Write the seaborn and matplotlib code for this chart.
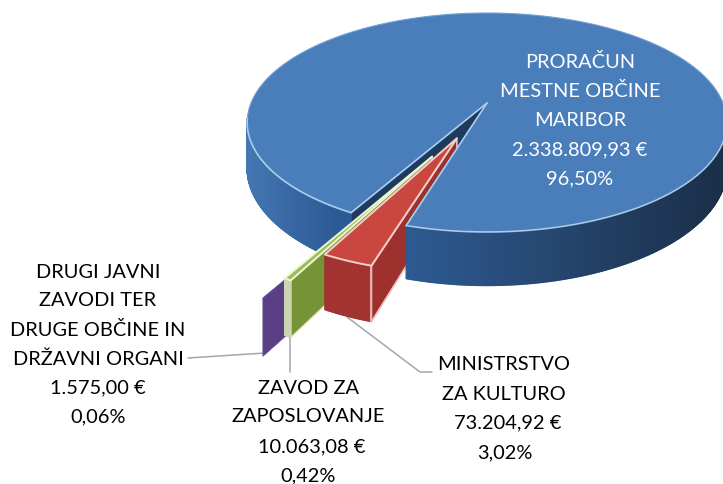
import numpy as np
import seaborn as sns
import matplotlib.pyplot as plt
from matplotlib.patches import Polygon

shares = [96.50, 3.02, 0.42, 0.06]
amounts = ['2.338.809,93 €', '73.204,92 €', '10.063,08 €', '1.575,00 €']
percents = ['96,50%', '3,02%', '0,42%', '0,06%']
names = [['PRORAČUN', 'MESTNE OBČINE', 'MARIBOR'],
         ['MINISTRSTVO', 'ZA KULTURO'],
         ['ZAVOD ZA', 'ZAPOSLOVANJE'],
         ['DRUGI JAVNI', 'ZAVODI TER', 'DRUGE OBČINE IN', 'DRŽAVNI ORGANI']]

# projection of the flat pie to the picture (tilted disc seen in perspective)
cx, cy = 487, 103
a, b, k = 236, 106, 0.178
depth = 44
first_cut = 106.5  # where the red slice starts, degrees clockwise from east
radius_small = 0.93
explode = [0, 0.336, 0.51, 0.63]
bisect_dir = [0, 111, 114.7, 115]


def project(x, y):
    w = 1 - k * y
    return cx + a * x / w, cy + b * y / w


def wall_h(y):
    return depth / (1 - k * y)


def slice_xy(start, end, off, r=1.0, n=60):
    t = np.radians(np.linspace(start, end, n))
    return off[0] + r * np.cos(t), off[1] + r * np.sin(t)


def face(ax, pts, color, edge=None, lw=1.0, z=1):
    ax.add_patch(Polygon(pts, closed=True, facecolor=color, edgecolor=edge if edge else color,
                         linewidth=lw, zorder=z, joinstyle='round'))


def side(ax, p, q, color, edge=None, lw=1.0, z=1):
    # p, q are disc points, wall hangs down below them
    p1 = project(*p)
    q1 = project(*q)
    pts = [p1, q1, (q1[0], q1[1] + wall_h(q[1])), (p1[0], p1[1] + wall_h(p[1]))]
    face(ax, pts, color, edge, lw, z)


def rim_wall(ax, start, end, pal_func, off=(0, 0), r=1.0, z=1, n=240):
    xs, ys = slice_xy(start, end, off, r, n)
    for i in range(n - 1):
        px, _ = project(xs[i], ys[i])
        col = pal_func(px)
        side(ax, (xs[i], ys[i]), (xs[i + 1], ys[i + 1]), col, col, 1.0, z)


sns.set_theme(style='white')
plt.rcParams['font.family'] = ['Lato', 'DejaVu Sans']
fig, ax = plt.subplots(figsize=(7.23, 4.84), dpi=100)
ax.set_position([0, 0, 1, 1])
ax.set_xlim(0, 723)
ax.set_ylim(484, 0)
ax.axis('off')

# angles from the values
sweeps = [s * 360 / sum(shares) for s in shares]
red_start = first_cut
red_end = red_start + sweeps[1]
green_end = red_end + sweeps[2]
purple_end = green_end + sweeps[3]
blue_start = purple_end
blue_end = first_cut + 360

offs = []
for e, d in zip(explode, bisect_dir):
    offs.append((e * np.cos(np.radians(d)), e * np.sin(np.radians(d))))

# wall shading along x
left_pal = sns.blend_palette(['#4477B3', '#2C5A94'], 200)
right_pal = sns.blend_palette(['#2D5A92', '#25456D', '#1B2F49'], 300)


def left_col(px):
    return left_pal[int(np.clip((px - 245) / 90 * 199, 0, 199))]


def right_col(px):
    return right_pal[int(np.clip((px - 409) / 310 * 299, 0, 299))]


# blue, far parts
bx, by = slice_xy(blue_start, blue_start, (0, 0), 1.0, 2)
side(ax, (0, 0), (bx[0], by[0]), '#1F3A5F', None, 0.8, 1)
rim_wall(ax, blue_start, 172, left_col, z=2)

# purple
xs, ys = slice_xy(green_end, purple_end, offs[3], radius_small, 4)
side(ax, offs[3], (xs[0], ys[0]), '#5A3F87', '#6A5296', 0.6, 3)

# green
xs, ys = slice_xy(red_end, green_end, offs[2], radius_small, 6)
side(ax, offs[2], (xs[0], ys[0]), '#769336', '#DDE8BE', 1.0, 4)
rim_wall(ax, red_end, green_end, lambda p: '#CBD6B0', off=offs[2], r=radius_small, z=4, n=6)
face(ax, [project(*offs[2])] + [project(x, y) for x, y in zip(xs, ys)], '#9BBB59', '#EEF5D2', 1.4, 4)

# red side wall is hidden partly by the blue top
xs, ys = slice_xy(red_start, red_end, offs[1], radius_small, 30)
side(ax, offs[1], (xs[0], ys[0]), '#9E302E', '#E9C4C0', 1.2, 5)

# blue top and front right wall
bx, by = slice_xy(blue_start, blue_end, (0, 0), 1.0, 240)
face(ax, [project(0, 0)] + [project(x, y) for x, y in zip(bx, by)], '#4A7EBB', '#6F9FD6', 0.8, 6)
rim_wall(ax, 10, first_cut, right_col, z=7)
rx, ry = slice_xy(10, first_cut, (0, 0), 1.0, 90)
ax.plot(*project(rx, ry), color='#A8CDEB', lw=1.2, zorder=8)
lx, ly = slice_xy(blue_start, 172, (0, 0), 1.0, 60)
ax.plot(*project(lx, ly), color='#A8CDEB', lw=1.2, zorder=8)
for x_, y_ in [(lx[0], ly[0]), (rx[-1], ry[-1])]:
    ax.plot([cx, project(x_, y_)[0]], [cy, project(x_, y_)[1]], color='#A8CDEB', lw=1.2, zorder=8)

# red top and rim
for i in range(29):
    side(ax, (xs[i], ys[i]), (xs[i + 1], ys[i + 1]), '#A23331', '#A23331', 0.8, 9)
p_top = [project(*offs[1])] + [project(x, y) for x, y in zip(xs, ys)]
face(ax, p_top, '#C9473F', '#F2CFC8', 1.4, 10)
p1 = project(xs[0], ys[0])
ax.plot([p1[0], p1[0]], [p1[1], p1[1] + wall_h(ys[0])], color='#F2CFC8', lw=1.2, zorder=10)

# leader lines
grey = '#A6A6A6'
ax.plot([188, 265], [358, 353], color=grey, lw=1.1, zorder=2)
ax.plot([290, 290], [337, 372], color=grey, lw=1.1, zorder=2)
ax.plot([347, 420, 432], [317, 372, 372], color=grey, lw=1.1, zorder=2)


def label(lines, xs_, ys_, color):
    for t, x_, y_ in zip(lines, xs_, ys_):
        ax.text(x_, y_, t, ha='center', va='center', fontsize=14.4, color=color, zorder=12)


label(names[0] + [amounts[0], percents[0]], [580, 580, 580, 580, 580], [62, 91, 121, 150, 179], 'white')
label(names[3] + [amounts[3], percents[3]], [98, 98, 98, 98, 98, 98], [272, 301, 330, 359, 388, 417], 'black')
label(names[2] + [amounts[2], percents[2]], [308, 308, 312, 308], [388, 417, 447, 476], 'black')
label(names[1] + [amounts[1], percents[1]], [504, 504, 508, 505], [364, 394, 423, 453], 'black')

fig.savefig('out.png', dpi=100)
